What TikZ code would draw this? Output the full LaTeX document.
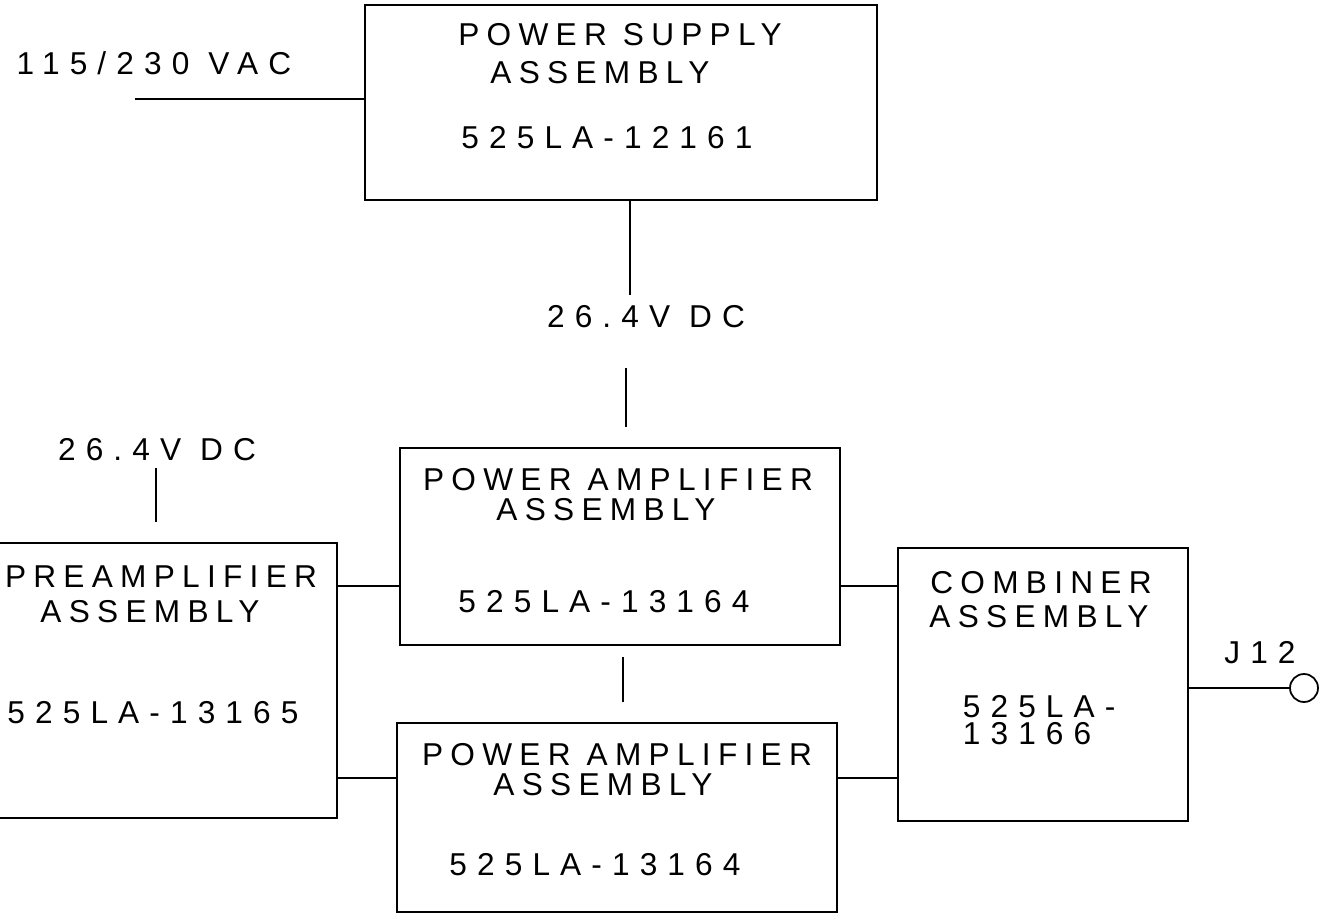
\documentclass[tikz,border=0pt]{standalone}
\usepackage{fontspec}
\setmainfont{Liberation Sans}[LetterSpace=23]
\newfontfamily\partfont{Liberation Sans}[LetterSpace=32]

\begin{document}
\begin{tikzpicture}[x=0.02cm, y=-0.02cm, line width=1pt,
    unit/.style={draw, inner sep=0pt},
    tag/.style={inner sep=0pt, font=\fontsize{18}{20}\selectfont},
    part/.style={inner sep=0pt, font=\fontsize{18}{20}\selectfont\partfont}]
  \useasboundingbox (0,0) rectangle (1323,920);
  % blocks
  \node[unit, minimum width=10.24cm, minimum height=3.9cm] (ps) at (621,102.5) {};
  \node[unit, minimum width=8.8cm, minimum height=3.94cm] (pa1) at (620,546.5) {};
  \node[unit, minimum width=8.8cm, minimum height=3.78cm] (pa2) at (617,817.5) {};
  \node[unit, minimum width=6.98cm, minimum height=5.5cm] (pre) at (162.5,680.5) {};
  \node[unit, minimum width=5.8cm, minimum height=5.46cm] (comb) at (1043,684.5) {};
  \node[unit, circle, minimum size=0.56cm] (j12) at (1304,688) {};

  % block texts
  \node[tag] (ps1) at (620,35) {POWER SUPPLY};
  \node[tag] (ps2) at (600,73) {ASSEMBLY};
  \node[part] (ps3) at (607,138) {525LA-12161};
  \node[tag] (pa1a) at (618,480) {POWER AMPLIFIER};
  \node[tag] (pa1b) at (606,510) {ASSEMBLY};
  \node[part] (pa1c) at (604,602) {525LA-13164};
  \node[tag] (pa2a) at (617,755) {POWER AMPLIFIER};
  \node[tag] (pa2b) at (603,785) {ASSEMBLY};
  \node[part] (pa2c) at (595,865) {525LA-13164};
  \node[tag] (pre1) at (161,577) {PREAMPLIFIER};
  \node[tag] (pre2) at (150,612) {ASSEMBLY};
  \node[part] (pre3) at (153,713) {525LA-13165};
  \node[tag] (comb1) at (1041,583) {COMBINER};
  \node[tag] (comb2) at (1039,617) {ASSEMBLY};
  \node[part, anchor=west, align=left, font=\fontsize{18}{15}\selectfont\partfont]
    (comb3) at (962,720) {525LA-\\13166};

  % outside labels
  \node[part] (vac) at (154,63) {115/230 VAC};
  \node[part] (dc1) at (646,317) {26.4V DC};
  \node[part] (dc2) at (157,450) {26.4V DC};
  \node[part] (jlab) at (1260,653) {J12};

  % connectors
  \coordinate (vacin) at (135,99);
  \draw (vacin) -- (vacin -| ps.west);
  \coordinate (dcA) at (630,295);
  \draw (ps.south -| dcA) -- (dcA);
  \coordinate (dcB) at (626,368);
  \coordinate (dcC) at (626,427);
  \draw (dcB) -- (dcC);
  \coordinate (pdA) at (156,468);
  \coordinate (pdB) at (156,522);
  \draw (pdA) -- (pdB);
  \coordinate (paA) at (623,657);
  \coordinate (paB) at (623,702);
  \draw (paA) -- (paB);
  \coordinate (row1) at (0,586);
  \coordinate (row2) at (0,778);
  \draw (pre.east |- row1) -- (pa1.west |- row1);
  \draw (pre.east |- row2) -- (pa2.west |- row2);
  \draw (pa1.east |- row1) -- (comb.west |- row1);
  \draw (pa2.east |- row2) -- (comb.west |- row2);
  \draw (comb.east |- j12) -- (j12.west);
\end{tikzpicture}
\end{document}
